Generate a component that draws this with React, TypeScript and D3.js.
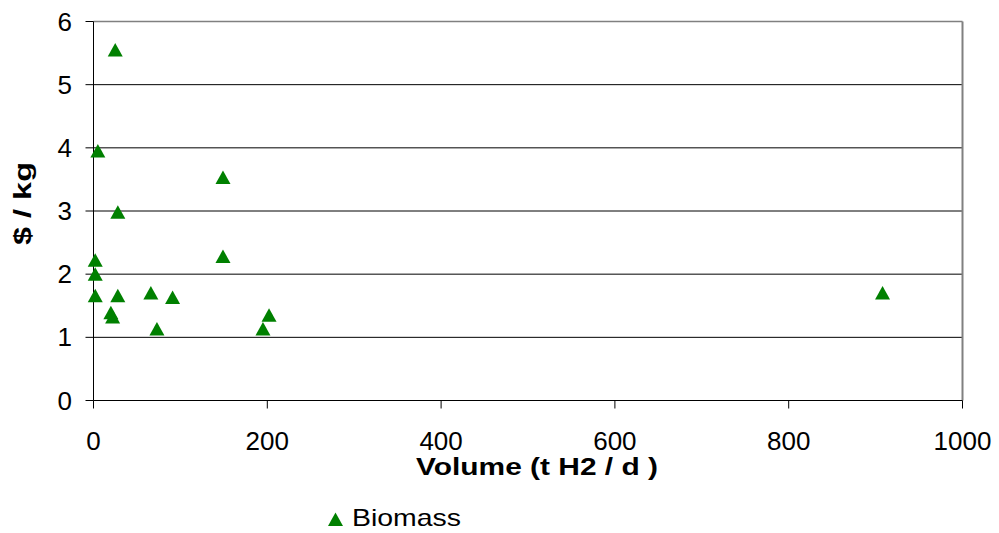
import React from "react";
import * as d3 from "d3";

// Hydrogen production cost vs. plant volume (biomass)
const volume = [25, 5, 28, 149, 149, 2, 2, 2, 28, 66, 91, 20, 22, 73, 195, 202, 908];
const cost = [5.55, 3.95, 2.98, 3.53, 2.28, 2.22, 2.0, 1.66, 1.66, 1.7, 1.63, 1.39, 1.32, 1.13, 1.13, 1.35, 1.7];
const xTicks = [0, 200, 400, 600, 800, 1000];
const yTicks = [0, 1, 2, 3, 4, 5, 6];
const seriesName = "Biomass";

const W = 999;
const H = 533;
const FONT = "Liberation Sans, Arial, sans-serif";
const GREEN = "#008000";

// Upward triangle marker centred on its bounding box
const triangle: d3.SymbolType = {
  draw(ctx, _size) {
    ctx.moveTo(0, -7);
    ctx.lineTo(7.5, 6.5);
    ctx.lineTo(-7.5, 6.5);
    ctx.closePath();
  },
};

export default function App() {
  const x = d3.scaleLinear().domain([0, 1000]).range([93.5, 962.5]);
  const y = d3.scaleLinear().domain([0, 6]).range([400.5, 21.5]);
  const marker = d3.symbol(triangle)() as string;

  return (
    <svg
      width={W}
      height={H}
      viewBox={`0 0 ${W} ${H}`}
      style={{ position: "absolute", left: 0, top: 0, background: "#fff" }}
    >
      {/* horizontal gridlines */}
      {yTicks.slice(1, -1).map((t) => (
        <line key={`g${t}`} x1={x(0)} x2={x(1000)} y1={y(t)} y2={y(t)} stroke="#000" strokeWidth={1} />
      ))}
      {/* plot area frame (top and right) */}
      <line x1={x(0)} x2={x(1000)} y1={y(6)} y2={y(6)} stroke="#808080" strokeWidth={1.5} />
      <line x1={x(1000)} x2={x(1000)} y1={y(6)} y2={y(0)} stroke="#808080" strokeWidth={2} />

      {/* axes */}
      <line x1={x(0)} x2={x(0)} y1={y(6)} y2={y(0)} stroke="#000" strokeWidth={1} />
      <line x1={x(0)} x2={x(1000)} y1={y(0)} y2={y(0)} stroke="#000" strokeWidth={1} />

      {/* y ticks and labels */}
      {yTicks.map((t) => (
        <g key={`y${t}`}>
          <line x1={x(0) - 8} x2={x(0)} y1={y(t)} y2={y(t)} stroke="#000" />
          <text
            x={72}
            y={y(t) + 9}
            textAnchor="end"
            fontFamily={FONT}
            fontSize={26}
            fill="#000"
          >
            {t}
          </text>
        </g>
      ))}

      {/* x ticks and labels */}
      {xTicks.map((t) => (
        <g key={`x${t}`}>
          <line x1={x(t)} x2={x(t)} y1={y(0)} y2={y(0) + 8} stroke="#000" />
          <text
            x={x(t)}
            y={450}
            textAnchor="middle"
            fontFamily={FONT}
            fontSize={26}
            fill="#000"
          >
            {t}
          </text>
        </g>
      ))}

      {/* axis titles */}
      <text
        x={416}
        y={474.5}
        textLength={242}
        lengthAdjust="spacingAndGlyphs"
        fontFamily={FONT}
        fontSize={23.5}
        fontWeight="bold"
        fill="#000"
      >
        Volume (t H2 / d )
      </text>
      <text
        transform={`translate(31, 245) rotate(-90)`}
        textLength={83}
        lengthAdjust="spacingAndGlyphs"
        fontFamily={FONT}
        fontSize={23}
        fontWeight="bold"
        fill="#000"
      >
        $ / kg
      </text>

      {/* data points */}
      {volume.map((v, i) => (
        <path key={`p${i}`} d={marker} transform={`translate(${x(v)}, ${y(cost[i])})`} fill={GREEN} />
      ))}

      {/* legend */}
      <path d={marker} transform="translate(335.5, 519.5)" fill={GREEN} />
      <text
        x={352}
        y={526}
        textLength={109}
        lengthAdjust="spacingAndGlyphs"
        fontFamily={FONT}
        fontSize={24}
        fill="#000"
      >
        {seriesName}
      </text>
    </svg>
  );
}
